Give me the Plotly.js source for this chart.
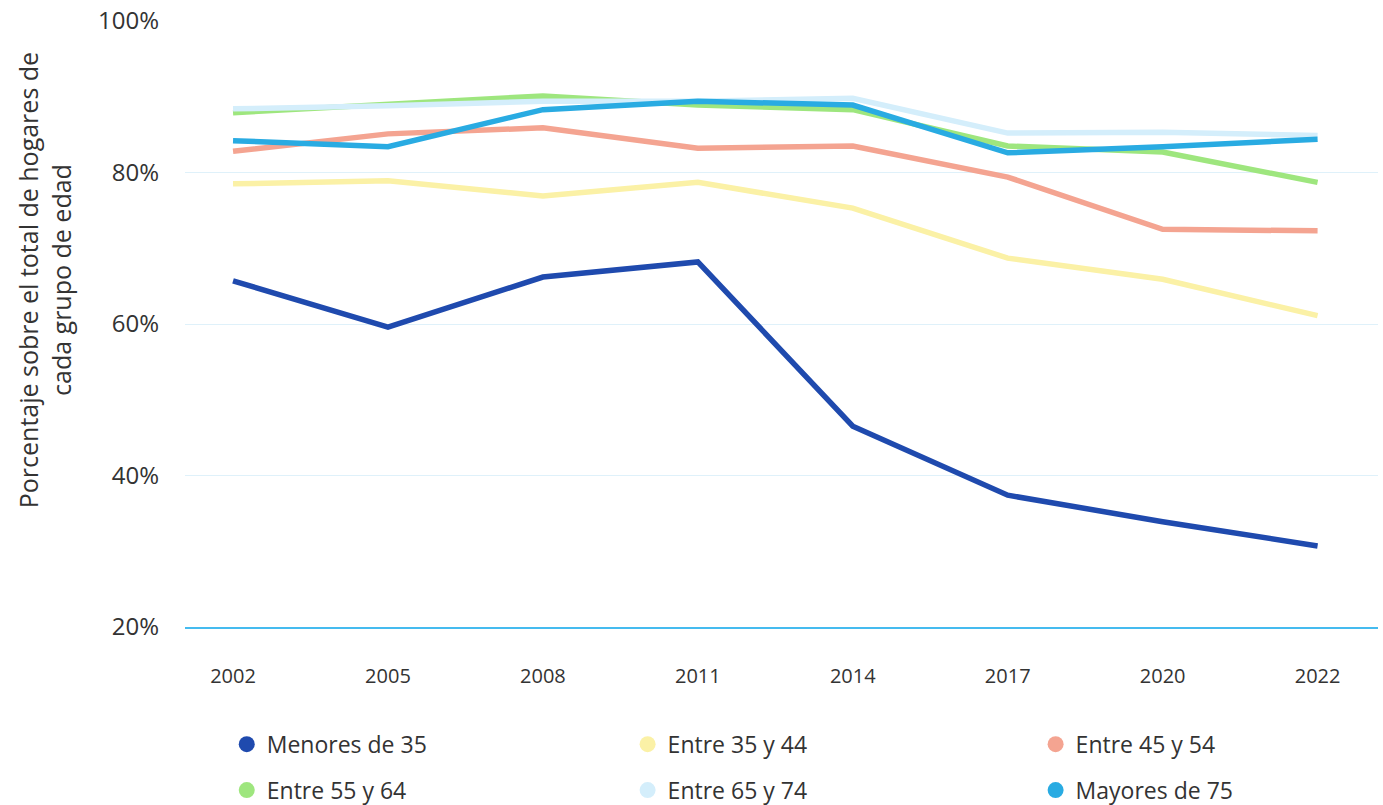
<!DOCTYPE html>
<html>
<head>
<meta charset="utf-8">
<script src="https://cdn.plot.ly/plotly-3.0.1.min.js"></script>
<style>html,body{margin:0;padding:0;background:#fff;}#chart{width:1383px;height:805px;}</style>
</head>
<body>
<div id="chart"></div>
<script>
const years = ["2002", "2005", "2008", "2011", "2014", "2017", "2020", "2022"];
const seriesNames = ["Menores de 35", "Entre 35 y 44", "Entre 45 y 54", "Entre 55 y 64", "Entre 65 y 74", "Mayores de 75"];
const menores35 = [65.7, 59.6, 66.2, 68.2, 46.5, 37.4, 33.9, 30.7];
const entre35y44 = [78.5, 78.9, 76.9, 78.7, 75.3, 68.7, 65.9, 61.1];
const entre45y54 = [82.8, 85.1, 85.9, 83.2, 83.5, 79.4, 72.5, 72.3];
const entre55y64 = [87.9, 89.0, 90.1, 88.9, 88.3, 83.5, 82.7, 78.7];
const entre65y74 = [88.4, 88.8, 89.4, 89.4, 89.8, 85.2, 85.3, 84.9];
const mayores75 = [84.2, 83.4, 88.3, 89.4, 88.9, 82.6, 83.4, 84.4];
const yTickVals = [20, 40, 60, 80, 100];
const yTickText = ["20%", "40%", "60%", "80%", "100%"];

const values = [menores35, entre35y44, entre45y54, entre55y64, entre65y74, mayores75];
const colors = ["#1f4aae", "#fbf1a6", "#f4a491", "#9ee67e", "#d4eefb", "#29abe2"];
const legendIds = ["legend", "legend2", "legend3", "legend", "legend2", "legend3"];
const groups = ["r1", "r1", "r1", "r2", "r2", "r2"];

const traces = [];
values.forEach((v, i) => {
  traces.push({
    type: "scatter", mode: "lines", x: years, y: v, name: seriesNames[i],
    line: {color: colors[i], width: 5.5}, showlegend: false, hoverinfo: "skip"
  });
});
values.forEach((v, i) => {
  traces.push({
    type: "scatter", mode: "markers", x: [null], y: [null], name: seriesNames[i],
    marker: {color: colors[i], size: 22, symbol: "circle"},
    showlegend: true, legend: legendIds[i], legendgroup: groups[i]
  });
});

const legendBase = {
  orientation: "v", xanchor: "left", yanchor: "top", y: -0.158,
  font: {family: "Open Sans, sans-serif", size: 23, color: "#333"},
  bgcolor: "rgba(0,0,0,0)", tracegroupgap: 13, traceorder: "grouped", itemclick: false
};

const layout = {
  width: 1383, height: 805,
  margin: {l: 185, r: 5, t: 21, b: 178, autoexpand: false},
  paper_bgcolor: "#fff", plot_bgcolor: "#fff",
  font: {family: "Open Sans, sans-serif", color: "#333"},
  xaxis: {
    type: "category", range: [-0.31, 7.39],
    showgrid: false, zeroline: false,
    showline: true, linecolor: "#45bbef", linewidth: 2,
    ticks: "", ticklabelstandoff: 30,
    tickfont: {family: "Open Sans, sans-serif", size: 20, color: "#333"}
  },
  yaxis: {
    range: [20, 100], tickvals: yTickVals, ticktext: yTickText,
    showgrid: true, gridcolor: "#dff1fa", gridwidth: 1,
    zeroline: false, showline: false, ticks: "", ticklabelstandoff: 25,
    tickfont: {family: "Open Sans, sans-serif", size: 24, color: "#333"}
  },
  legend: Object.assign({}, legendBase, {x: 0.035}),
  legend2: Object.assign({}, legendBase, {x: 0.371}),
  legend3: Object.assign({}, legendBase, {x: 0.713}),
  annotations: [{
    text: "Porcentaje sobre el total de hogares de<br>cada grupo de edad",
    xref: "paper", yref: "paper", x: -0.118, y: 0.5726,
    xanchor: "center", yanchor: "middle", textangle: -90, showarrow: false,
    font: {family: "Open Sans, sans-serif", size: 25, color: "#333"}
  }],
  showlegend: true
};

Plotly.newPlot("chart", traces, layout, {displayModeBar: false, staticPlot: true});
</script>
</body>
</html>
